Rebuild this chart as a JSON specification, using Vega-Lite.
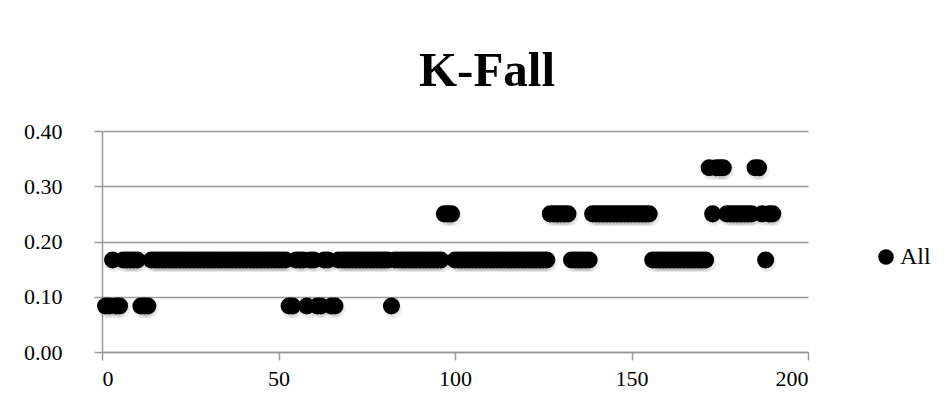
{
  "$schema": "https://vega.github.io/schema/vega-lite/v6.json",
  "autosize": "none",
  "width": 706,
  "height": 221,
  "padding": {"left": 102, "top": 131, "right": 143, "bottom": 61},
  "background": "white",
  "config": {
    "view": {"stroke": null},
    "font": "Liberation Serif",
    "axis": {
      "labelFont": "Liberation Serif",
      "labelFontSize": 22,
      "labelColor": "#000000",
      "domainColor": "#999999",
      "domainWidth": 1.5,
      "tickColor": "#999999",
      "tickWidth": 1.5,
      "tickSize": 8,
      "gridColor": "#999999",
      "gridWidth": 1.5,
      "title": null
    }
  },
  "title": {
    "text": "K-Fall",
    "font": "Liberation Serif",
    "fontSize": 49,
    "fontWeight": "bold",
    "color": "#000000",
    "anchor": "middle",
    "dx": 32,
    "offset": 24
  },
  "data": {
    "values": [
      {"index": 1, "kFall": 0.0833}, {"index": 2, "kFall": 0.0833}, {"index": 3, "kFall": 0.1667}, {"index": 4, "kFall": 0.0833}, {"index": 5, "kFall": 0.0833},
      {"index": 6, "kFall": 0.1667}, {"index": 7, "kFall": 0.1667}, {"index": 8, "kFall": 0.1667}, {"index": 9, "kFall": 0.1667}, {"index": 10, "kFall": 0.1667},
      {"index": 11, "kFall": 0.0833}, {"index": 12, "kFall": 0.0833}, {"index": 13, "kFall": 0.0833}, {"index": 14, "kFall": 0.1667}, {"index": 15, "kFall": 0.1667},
      {"index": 16, "kFall": 0.1667}, {"index": 17, "kFall": 0.1667}, {"index": 18, "kFall": 0.1667}, {"index": 19, "kFall": 0.1667}, {"index": 20, "kFall": 0.1667},
      {"index": 21, "kFall": 0.1667}, {"index": 22, "kFall": 0.1667}, {"index": 23, "kFall": 0.1667}, {"index": 24, "kFall": 0.1667}, {"index": 25, "kFall": 0.1667},
      {"index": 26, "kFall": 0.1667}, {"index": 27, "kFall": 0.1667}, {"index": 28, "kFall": 0.1667}, {"index": 29, "kFall": 0.1667}, {"index": 30, "kFall": 0.1667},
      {"index": 31, "kFall": 0.1667}, {"index": 32, "kFall": 0.1667}, {"index": 33, "kFall": 0.1667}, {"index": 34, "kFall": 0.1667}, {"index": 35, "kFall": 0.1667},
      {"index": 36, "kFall": 0.1667}, {"index": 37, "kFall": 0.1667}, {"index": 38, "kFall": 0.1667}, {"index": 39, "kFall": 0.1667}, {"index": 40, "kFall": 0.1667},
      {"index": 41, "kFall": 0.1667}, {"index": 42, "kFall": 0.1667}, {"index": 43, "kFall": 0.1667}, {"index": 44, "kFall": 0.1667}, {"index": 45, "kFall": 0.1667},
      {"index": 46, "kFall": 0.1667}, {"index": 47, "kFall": 0.1667}, {"index": 48, "kFall": 0.1667}, {"index": 49, "kFall": 0.1667}, {"index": 50, "kFall": 0.1667},
      {"index": 51, "kFall": 0.1667}, {"index": 52, "kFall": 0.1667}, {"index": 53, "kFall": 0.0833}, {"index": 54, "kFall": 0.0833}, {"index": 55, "kFall": 0.1667},
      {"index": 56, "kFall": 0.1667}, {"index": 57, "kFall": 0.1667}, {"index": 58, "kFall": 0.0833}, {"index": 59, "kFall": 0.1667}, {"index": 60, "kFall": 0.1667},
      {"index": 61, "kFall": 0.0833}, {"index": 62, "kFall": 0.0833}, {"index": 63, "kFall": 0.1667}, {"index": 64, "kFall": 0.1667}, {"index": 65, "kFall": 0.0833},
      {"index": 66, "kFall": 0.0833}, {"index": 67, "kFall": 0.1667}, {"index": 68, "kFall": 0.1667}, {"index": 69, "kFall": 0.1667}, {"index": 70, "kFall": 0.1667},
      {"index": 71, "kFall": 0.1667}, {"index": 72, "kFall": 0.1667}, {"index": 73, "kFall": 0.1667}, {"index": 74, "kFall": 0.1667}, {"index": 75, "kFall": 0.1667},
      {"index": 76, "kFall": 0.1667}, {"index": 77, "kFall": 0.1667}, {"index": 78, "kFall": 0.1667}, {"index": 79, "kFall": 0.1667}, {"index": 80, "kFall": 0.1667},
      {"index": 81, "kFall": 0.1667}, {"index": 82, "kFall": 0.0833}, {"index": 83, "kFall": 0.1667}, {"index": 84, "kFall": 0.1667}, {"index": 85, "kFall": 0.1667},
      {"index": 86, "kFall": 0.1667}, {"index": 87, "kFall": 0.1667}, {"index": 88, "kFall": 0.1667}, {"index": 89, "kFall": 0.1667}, {"index": 90, "kFall": 0.1667},
      {"index": 91, "kFall": 0.1667}, {"index": 92, "kFall": 0.1667}, {"index": 93, "kFall": 0.1667}, {"index": 94, "kFall": 0.1667}, {"index": 95, "kFall": 0.1667},
      {"index": 96, "kFall": 0.1667}, {"index": 97, "kFall": 0.25}, {"index": 98, "kFall": 0.25}, {"index": 99, "kFall": 0.25}, {"index": 100, "kFall": 0.1667},
      {"index": 101, "kFall": 0.1667}, {"index": 102, "kFall": 0.1667}, {"index": 103, "kFall": 0.1667}, {"index": 104, "kFall": 0.1667}, {"index": 105, "kFall": 0.1667},
      {"index": 106, "kFall": 0.1667}, {"index": 107, "kFall": 0.1667}, {"index": 108, "kFall": 0.1667}, {"index": 109, "kFall": 0.1667}, {"index": 110, "kFall": 0.1667},
      {"index": 111, "kFall": 0.1667}, {"index": 112, "kFall": 0.1667}, {"index": 113, "kFall": 0.1667}, {"index": 114, "kFall": 0.1667}, {"index": 115, "kFall": 0.1667},
      {"index": 116, "kFall": 0.1667}, {"index": 117, "kFall": 0.1667}, {"index": 118, "kFall": 0.1667}, {"index": 119, "kFall": 0.1667}, {"index": 120, "kFall": 0.1667},
      {"index": 121, "kFall": 0.1667}, {"index": 122, "kFall": 0.1667}, {"index": 123, "kFall": 0.1667}, {"index": 124, "kFall": 0.1667}, {"index": 125, "kFall": 0.1667},
      {"index": 126, "kFall": 0.1667}, {"index": 127, "kFall": 0.25}, {"index": 128, "kFall": 0.25}, {"index": 129, "kFall": 0.25}, {"index": 130, "kFall": 0.25},
      {"index": 131, "kFall": 0.25}, {"index": 132, "kFall": 0.25}, {"index": 133, "kFall": 0.1667}, {"index": 134, "kFall": 0.1667}, {"index": 135, "kFall": 0.1667},
      {"index": 136, "kFall": 0.1667}, {"index": 137, "kFall": 0.1667}, {"index": 138, "kFall": 0.1667}, {"index": 139, "kFall": 0.25}, {"index": 140, "kFall": 0.25},
      {"index": 141, "kFall": 0.25}, {"index": 142, "kFall": 0.25}, {"index": 143, "kFall": 0.25}, {"index": 144, "kFall": 0.25}, {"index": 145, "kFall": 0.25},
      {"index": 146, "kFall": 0.25}, {"index": 147, "kFall": 0.25}, {"index": 148, "kFall": 0.25}, {"index": 149, "kFall": 0.25}, {"index": 150, "kFall": 0.25},
      {"index": 151, "kFall": 0.25}, {"index": 152, "kFall": 0.25}, {"index": 153, "kFall": 0.25}, {"index": 154, "kFall": 0.25}, {"index": 155, "kFall": 0.25},
      {"index": 156, "kFall": 0.1667}, {"index": 157, "kFall": 0.1667}, {"index": 158, "kFall": 0.1667}, {"index": 159, "kFall": 0.1667}, {"index": 160, "kFall": 0.1667},
      {"index": 161, "kFall": 0.1667}, {"index": 162, "kFall": 0.1667}, {"index": 163, "kFall": 0.1667}, {"index": 164, "kFall": 0.1667}, {"index": 165, "kFall": 0.1667},
      {"index": 166, "kFall": 0.1667}, {"index": 167, "kFall": 0.1667}, {"index": 168, "kFall": 0.1667}, {"index": 169, "kFall": 0.1667}, {"index": 170, "kFall": 0.1667},
      {"index": 171, "kFall": 0.1667}, {"index": 172, "kFall": 0.3333}, {"index": 173, "kFall": 0.25}, {"index": 174, "kFall": 0.3333}, {"index": 175, "kFall": 0.3333},
      {"index": 176, "kFall": 0.3333}, {"index": 177, "kFall": 0.25}, {"index": 178, "kFall": 0.25}, {"index": 179, "kFall": 0.25}, {"index": 180, "kFall": 0.25},
      {"index": 181, "kFall": 0.25}, {"index": 182, "kFall": 0.25}, {"index": 183, "kFall": 0.25}, {"index": 184, "kFall": 0.25}, {"index": 185, "kFall": 0.3333},
      {"index": 186, "kFall": 0.3333}, {"index": 187, "kFall": 0.25}, {"index": 188, "kFall": 0.1667}, {"index": 189, "kFall": 0.25}, {"index": 190, "kFall": 0.25}
    ]
  },
  "encoding": {
    "x": {
      "field": "index",
      "type": "quantitative",
      "scale": {"domain": [0, 200], "nice": false},
      "axis": {"values": [0, 50, 100, 150, 200], "grid": false, "labelPadding": 8}
    },
    "y": {
      "field": "kFall",
      "type": "quantitative",
      "scale": {"domain": [0, 0.4], "nice": false},
      "axis": {"values": [0, 0.1, 0.2, 0.3, 0.4], "format": ".2f", "grid": true, "labelPadding": 32}
    }
  },
  "layer": [
    {
      "mark": {"type": "circle", "size": 330, "color": "#000000", "opacity": 0.08, "xOffset": 1.5, "yOffset": 3}
    },
    {
      "mark": {"type": "circle", "size": 290, "opacity": 1},
      "encoding": {
        "color": {
          "datum": "All",
          "type": "nominal",
          "scale": {"range": ["#000000"]},
          "legend": {
            "title": null,
            "orient": "none",
            "legendX": 772,
            "legendY": 114,
            "symbolType": "circle",
            "symbolSize": 240,
            "symbolStrokeWidth": 0,
            "symbolOpacity": 1,
            "labelFont": "Liberation Serif",
            "labelFontSize": 24,
            "labelColor": "#000000",
            "labelOffset": 2
          }
        }
      }
    }
  ]
}
